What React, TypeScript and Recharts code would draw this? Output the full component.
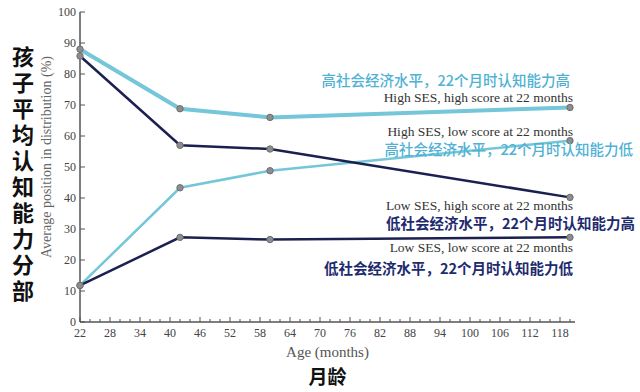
import React from 'react'
import { LineChart, Line, XAxis, YAxis, LabelList } from 'recharts'

const ages = [22, 42, 60, 120]
const highSesHigh = [88, 68.8, 66, 69.2]
const highSesLow = [11.8, 43.3, 48.8, 58.5]
const lowSesHigh = [85.8, 57, 55.8, 40.2]
const lowSesLow = [11.8, 27.3, 26.6, 27.3]

const xTicks = [22, 24, 26, 28, 30, 32, 34, 36, 38, 40, 42, 44, 46, 48, 50, 52, 54, 56, 58, 60,
  62, 64, 66, 68, 70, 72, 74, 76, 78, 80, 82, 84, 86, 88, 90, 92, 94, 96, 98, 100,
  102, 104, 106, 108, 110, 112, 114, 116, 118, 120]
const xLabelTicks = [22, 28, 34, 40, 46, 52, 58, 64, 70, 76, 82, 88, 94, 100, 106, 112, 118]
const yTicks = [0, 10, 20, 30, 40, 50, 60, 70, 80, 90, 100]

const enLabels = [
  'High SES, high score at 22 months',
  'High SES, low score at 22 months',
  'Low SES, high score at 22 months',
  'Low SES, low score at 22 months',
]
const zhLabels = [
  '高社会经济水平，22个月时认知能力高',
  '高社会经济水平，22个月时认知能力低',
  '低社会经济水平，22个月时认知能力高',
  '低社会经济水平，22个月时认知能力低',
]
const yTitleZh = '孩子平均认知能力分部'
const yTitleEn = 'Average position in distribution (%)'
const xTitleEn = 'Age (months)'
const xTitleZh = '月龄'

const data = ages.map((age, i) => ({
  age,
  hh: highSesHigh[i],
  hl: highSesLow[i],
  lh: lowSesHigh[i],
  ll: lowSesLow[i],
}))

const CYAN = '#74c6d8'
const NAVY = '#1b2050'
const CYAN_TEXT = '#4fb2d4'
const NAVY_TEXT = '#1d2b6e'
const SERIF = '"Liberation Serif", "DejaVu Serif", serif'
const CJK = '"Noto Sans CJK SC", sans-serif'

const dotStyle = { r: 3.2, fill: '#8d8d8d', stroke: '#6e6e6e', strokeWidth: 1 }

// tick marks point inward, so draw them ourselves
const XTick = (props: any) => {
  const { x, y, payload } = props
  const axisY = y - 8
  const major = xLabelTicks.includes(payload.value)
  return (
    <g>
      <line x1={x} x2={x} y1={axisY} y2={axisY - (major ? 5 : 3)} stroke="#555" strokeWidth={1} />
      {major && (
        <text x={x} y={axisY + 15} textAnchor="middle" fontFamily={SERIF} fontSize={12} fill="#444">
          {payload.value}
        </text>
      )}
    </g>
  )
}

const YTick = (props: any) => {
  const { x, y, payload } = props
  const axisX = x + 8
  return (
    <g>
      <line x1={axisX} x2={axisX + 5} y1={y} y2={y} stroke="#555" strokeWidth={1} />
      <text x={axisX - 4} y={y + 4} textAnchor="end" fontFamily={SERIF} fontSize={12} fill="#444">
        {payload.value}
      </text>
    </g>
  )
}

type EndOpts = { i: number; enDy: number; zhDx: number; zhDy: number; zhColor: string; zhWeight: number }

const endLabel = (o: EndOpts) => (p: any) => {
  if (p.index !== ages.length - 1) return null
  const x = p.x ?? p.viewBox?.x
  const y = p.y ?? p.viewBox?.y
  return (
    <g>
      <text x={x + 3} y={y + o.enDy} textAnchor="end" fontFamily={SERIF} fontSize={13.5} fill="#333">
        {enLabels[o.i]}
      </text>
      <text x={x + o.zhDx} y={y + o.zhDy} textAnchor="end" fontFamily={CJK} fontSize={14.5}
        fontWeight={o.zhWeight} fill={o.zhColor}>
        {zhLabels[o.i]}
      </text>
    </g>
  )
}

export default function App() {
  return (
    <div style={{ position: 'absolute', left: 0, top: 0, width: 640, height: 392, background: '#fff' }}>
      <LineChart width={640} height={392} data={data} margin={{ top: 12, right: 65, bottom: 40, left: 14 }}>
        <XAxis dataKey="age" type="number" domain={[22, 121]} ticks={xTicks} interval={0}
          tick={XTick} tickLine={false} tickSize={6} tickMargin={2} height={30}
          axisLine={{ stroke: '#555', strokeWidth: 1.5 }} />
        <YAxis type="number" domain={[0, 100]} ticks={yTicks} interval={0} width={66}
          tick={YTick} tickLine={false} tickSize={6} tickMargin={2}
          axisLine={{ stroke: '#555', strokeWidth: 1.5 }} />
        <Line dataKey="hl" stroke={CYAN} strokeWidth={2.5} dot={dotStyle} isAnimationActive={false}>
          <LabelList dataKey="hl" content={endLabel({ i: 1, enDy: -5, zhDx: 63, zhDy: 14, zhColor: CYAN_TEXT, zhWeight: 500 })} />
        </Line>
        <Line dataKey="ll" stroke={NAVY} strokeWidth={2.5} dot={dotStyle} isAnimationActive={false}>
          <LabelList dataKey="ll" content={endLabel({ i: 3, enDy: 15, zhDx: 3, zhDy: 37, zhColor: NAVY_TEXT, zhWeight: 700 })} />
        </Line>
        <Line dataKey="lh" stroke={NAVY} strokeWidth={2.5} dot={dotStyle} isAnimationActive={false}>
          <LabelList dataKey="lh" content={endLabel({ i: 2, enDy: 13, zhDx: 65, zhDy: 32, zhColor: NAVY_TEXT, zhWeight: 700 })} />
        </Line>
        <Line dataKey="hh" stroke={CYAN} strokeWidth={4} dot={dotStyle} isAnimationActive={false}>
          <LabelList dataKey="hh" content={endLabel({ i: 0, enDy: -5, zhDx: 0, zhDy: -21, zhColor: CYAN_TEXT, zhWeight: 500 })} />
        </Line>
      </LineChart>

      <div style={{ position: 'absolute', left: 10, top: 46, width: 26, fontFamily: CJK, fontWeight: 700,
        fontSize: 22, letterSpacing: 4, writingMode: 'vertical-rl', textOrientation: 'upright',
        color: '#111', lineHeight: '26px' }}>
        {yTitleZh}
      </div>
      <div style={{ position: 'absolute', left: 47, top: 157, transform: 'translate(-50%, -50%) rotate(-90deg)',
        whiteSpace: 'nowrap', fontFamily: SERIF, fontSize: 14, color: '#666' }}>
        {yTitleEn}
      </div>
      <div style={{ position: 'absolute', left: 80, width: 495, top: 344, textAlign: 'center',
        fontFamily: SERIF, fontSize: 15, color: '#555' }}>
        {xTitleEn}
      </div>
      <div style={{ position: 'absolute', left: 80, width: 495, top: 363, textAlign: 'center',
        fontFamily: CJK, fontWeight: 700, fontSize: 19, color: '#111', lineHeight: '26px' }}>
        {xTitleZh}
      </div>
    </div>
  )
}
